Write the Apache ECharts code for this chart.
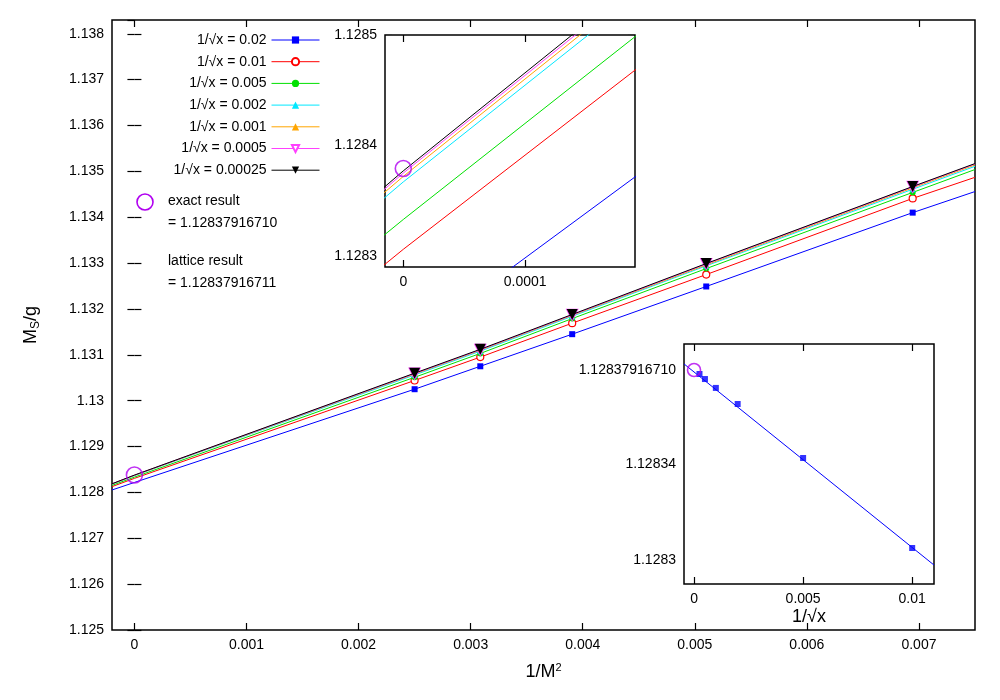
<!DOCTYPE html>
<html><head><meta charset="utf-8">
<script src="https://cdn.jsdelivr.net/npm/echarts@6/dist/echarts.min.js"></script>
<style>html,body{margin:0;padding:0;background:#fff}#c{width:1000px;height:700px}</style>
</head><body><div id="c"></div>
<script>
// ---- data ----
const invM2 = [0.0025, 0.003086, 0.003906, 0.005102, 0.006944];
const seriesNames = ['1/√x = 0.02','1/√x = 0.01','1/√x = 0.005','1/√x = 0.002','1/√x = 0.001','1/√x = 0.0005','1/√x = 0.00025'];
const v002    = [1.13025, 1.13075, 1.13145, 1.13249, 1.13410];
const v001    = [1.13044, 1.13095, 1.13169, 1.13275, 1.13441];
const v0005   = [1.13051, 1.13103, 1.13179, 1.13288, 1.13454];
const v0002   = [1.13056, 1.13108, 1.13184, 1.13294, 1.13461];
const v0001   = [1.13058, 1.13110, 1.13186, 1.13296, 1.13464];
const v00005  = [1.13059, 1.13111, 1.13187, 1.13298, 1.13466];
const v000025 = [1.13060, 1.13112, 1.13188, 1.13299, 1.13467];
// fit curves: value at x = -0.0002, 0, and 0.0075
const fitX = [-0.0002, 0, 0.0075];
const fitStart = [1.128053, 1.128126, 1.128153, 1.128180, 1.128184, 1.128186, 1.128188];
const fitZero  = [1.128217, 1.128306, 1.128333, 1.128367, 1.128372, 1.128375, 1.128377];
const fitEnd   = [1.13456, 1.13487, 1.13504, 1.13511, 1.13514, 1.13516, 1.13517];
const exactX = 0;
const exactValue = 1.12837916710;
// inset 2: extrapolated values vs 1/sqrt(x)
const invSqrtX = [0.00025, 0.0005, 0.001, 0.002, 0.005, 0.01];
const extrap   = [1.1283775, 1.1283754, 1.1283717, 1.128365, 1.1283425, 1.128305];
const fit2X = [-0.00046, 0.011];
const fit2V = [1.1283817, 1.1282979];
const mainXTicks = [0,0.001,0.002,0.003,0.004,0.005,0.006,0.007];
const in1XTicks = [0, 0.0001];
const in1YTicks = [1.1283, 1.1284, 1.1285];
const in2XTicks = [0, 0.005, 0.01];
const in2YTicks = [1.1283, 1.12834, 1.12837916710];
// ---- styles ----
const values = [v002, v001, v0005, v0002, v0001, v00005, v000025];
const colors = ['#0000ff','#ff0000','#00e000','#00e8ff','#ffa500','#ff40ff','#000000'];
const symbols = ['rect','circle','circle','triangle','triangle','path://M0,0L10,0L5,9Z','path://M0,0L10,0L5,9Z'];
const symSizes = [6,7,6,6,5,11,11];
const hollow = [false,true,false,false,false,true,false];
const FONT = 'Liberation Sans';
const txt = {fontFamily: FONT, fontSize: 14, color: '#000'};
const tickStyle = {color: '#000', width: 1.2};

function xPair(gridIndex, min, max, ticks, fmt, z, extra) {
  const base = {type:'value', gridIndex, min, max, z, axisLine:{show:false}, splitLine:{show:false},
    axisTick:{show:true, inside:true, length:7, customValues:ticks, lineStyle:tickStyle}};
  return [
    Object.assign({}, base, {position:'bottom', axisLabel:Object.assign({show:true, customValues:ticks, formatter:fmt, margin:8}, txt)}, extra || {}),
    Object.assign({}, base, {position:'top', axisLabel:{show:false}}),
  ];
}
function yPlain(gridIndex, min, max, fmt, z, labelTicks) {
  // labels only; ticks drawn by markLine
  return [
    {type:'value', gridIndex, min, max, z, position:'left', axisLine:{show:false}, splitLine:{show:false}, axisTick:{show:false},
      axisLabel:Object.assign({show:true, customValues:labelTicks, formatter:fmt, margin:8}, txt)},
    {type:'value', gridIndex, min, max, z, position:'right', axisLine:{show:false}, splitLine:{show:false}, axisTick:{show:false}, axisLabel:{show:false}},
  ];
}
// y tick marks as markLine segments, derived from tick values and axis range
function yTickLines(ticks, xmin, xmax, widthPx) {
  const d = (xmax - xmin) * 7 / widthPx;
  const out = [];
  ticks.forEach(t => {
    out.push([{coord:[xmin, t]}, {coord:[xmin + d, t]}]);
    out.push([{coord:[xmax - d, t]}, {coord:[xmax, t]}]);
  });
  return out;
}

const xAxes = [], yAxes = [];
xAxes.push(...xPair(0,-0.0002,0.0075,mainXTicks,v=>String(+v.toFixed(3)),3,
  {name:'1/M{sup|2}', nameLocation:'middle', nameGap:32, nameTextStyle:{fontFamily:FONT,fontSize:18,color:'#000',rich:{sup:{fontSize:11,verticalAlign:'top',padding:[0,0,10,0],fontFamily:FONT}}}}));
const mainYFmt = v => { const r = Math.round(v * 1000) / 1000; return Math.abs(r - v) < 1e-7 ? String(+r.toFixed(3)) : ''; };
yAxes.push(
  {type:'value', gridIndex:0, min:1.125, max:1.1383, interval:0.001, z:3, position:'left', axisLine:{show:false}, splitLine:{show:false},
   axisTick:{show:true, inside:true, length:7, lineStyle:tickStyle},
   axisLabel:Object.assign({show:true, formatter:mainYFmt, showMaxLabel:false, margin:8}, txt),
   name:'M{sub|S}/g', nameLocation:'middle', nameGap:70,
   nameTextStyle:{fontFamily:FONT,fontSize:18,color:'#000',rich:{sub:{fontSize:12,verticalAlign:'bottom',padding:[10,0,0,0],fontFamily:FONT}}}},
  {type:'value', gridIndex:0, min:1.125, max:1.1383, interval:0.001, z:3, position:'right', axisLine:{show:false}, splitLine:{show:false},
   axisTick:{show:true, inside:true, length:7, lineStyle:tickStyle}, axisLabel:{show:false}}
);
const in1X = [-0.000015, 0.00019], in1Y = [1.12829, 1.1285];
const in2X = [-0.00046, 0.011], in2Y = [1.12829, 1.12839];
xAxes.push(...xPair(1,in1X[0],in1X[1],in1XTicks,v=>String(+v.toFixed(4)),8));
yAxes.push(...yPlain(1,in1Y[0],in1Y[1],v=>String(+v.toFixed(4)),8,in1YTicks));
xAxes.push(...xPair(2,in2X[0],in2X[1],in2XTicks,v=>String(+v.toFixed(3)),8,
  {name:'1/√x', nameLocation:'middle', nameGap:24, nameTextStyle:{fontFamily:FONT,fontSize:18,color:'#000'}}));
yAxes.push(...yPlain(2,in2Y[0],in2Y[1],v=>Math.abs(v-exactValue)<1e-9?'1.12837916710':String(+v.toFixed(5)),8,in2YTicks));

const series = [];
values.forEach((vals, i) => {
  const data = [
    {value: [fitX[0], fitStart[i]], symbol: 'none'},
    {value: [fitX[1], fitZero[i]], symbol: 'none'},
  ];
  invM2.forEach((x, k) => data.push([x, vals[k]]));
  data.push({value: [fitX[2], fitEnd[i]], symbol: 'none'});
  series.push({
    name: seriesNames[i], type: 'line', xAxisIndex: 0, yAxisIndex: 0, z: 2 + i * 0.01,
    data, symbol: symbols[i], symbolSize: symSizes[i], showAllSymbol: true,
    lineStyle: {color: colors[i], width: 1},
    itemStyle: hollow[i] ? {color: '#fff', borderColor: colors[i], borderWidth: 1.2} : {color: colors[i], borderWidth: 0},
    color: colors[i], clip: true, animation: false,
  });
  series.push({
    name: seriesNames[i], type: 'line', xAxisIndex: 2, yAxisIndex: 2, z: 9,
    data: [[fitX[0], fitStart[i]], [fitX[1], fitZero[i]], [invM2[0], vals[0]]],
    showSymbol: false, symbol: 'none', lineStyle: {color: colors[i], width: 1}, clip: true, animation: false,
  });
});
const circleStyle = {color: 'rgba(0,0,0,0)', borderColor: '#b000f0', borderWidth: 1.6};
const dashed = {silent:true, symbol:'none', label:{show:false}, lineStyle:{color:'#000', type:[6,4], width:1}, data:[{xAxis:0}]};
series.push({type:'scatter', xAxisIndex:0, yAxisIndex:0, z:4, data:[[exactX, exactValue]], symbol:'circle', symbolSize:16, itemStyle:circleStyle, animation:false});
series.push({type:'scatter', xAxisIndex:2, yAxisIndex:2, z:10, data:[[exactX, exactValue]], symbol:'circle', symbolSize:16, itemStyle:circleStyle, animation:false, markLine:dashed});
series.push({type:'line', xAxisIndex:2, yAxisIndex:2, z:10, data:[], animation:false,
  markLine:{silent:true, symbol:'none', label:{show:false}, lineStyle:{color:'#000', type:'solid', width:1.2}, data:yTickLines(in1YTicks, in1X[0], in1X[1], 250)}});
series.push({type:'line', xAxisIndex:4, yAxisIndex:4, z:9, data:[[fit2X[0],fit2V[0]],[fit2X[1],fit2V[1]]], symbol:'none', lineStyle:{color:'#0000ff',width:1}, clip:true, animation:false});
series.push({type:'scatter', xAxisIndex:4, yAxisIndex:4, z:10, data: invSqrtX.map((x,k)=>[x, extrap[k]]), symbol:'rect', symbolSize:6, itemStyle:{color:'#0000ff'}, animation:false});
series.push({type:'scatter', xAxisIndex:4, yAxisIndex:4, z:10, data:[[exactX, exactValue]], symbol:'circle', symbolSize:13, itemStyle:circleStyle, animation:false, markLine:dashed});
series.push({type:'line', xAxisIndex:4, yAxisIndex:4, z:10, data:[], animation:false,
  markLine:{silent:true, symbol:'none', label:{show:false}, lineStyle:{color:'#000', type:'solid', width:1.2}, data:yTickLines(in2YTicks, in2X[0], in2X[1], 250)}});

const legends = seriesNames.map((n, i) => ({
  data: [n], orient: 'vertical', right: 680, top: 33 + i * 21.7, align: 'right',
  itemWidth: 48, itemHeight: 9, itemGap: 0, padding: 0, selectedMode: false,
  lineStyle: {width: 1},
  textStyle: {fontFamily: FONT, fontSize: 14, color: '#000'},
}));

const chart = echarts.init(document.getElementById('c'), null, {renderer: 'canvas'});
chart.setOption({
  backgroundColor: '#fff', animation: false,
  grid: [
    {left:112, top:20, width:863, height:610, show:true, borderColor:'#000', borderWidth:1.5, backgroundColor:'transparent', z:1},
    {left:385, top:35, width:250, height:232, show:true, borderColor:'#000', borderWidth:1.5, backgroundColor:'#fff', z:6},
    {left:684, top:344, width:250, height:240, show:true, borderColor:'#000', borderWidth:1.5, backgroundColor:'#fff', z:6},
  ],
  xAxis: xAxes, yAxis: yAxes, legend: legends, series,
  graphic: [
    {type:'circle', shape:{cx:145, cy:202, r:8}, style:{fill:'none', stroke:'#b000f0', lineWidth:1.6}},
    {type:'text', left:168, top:194, style:{text:'exact result', font:'14px "Liberation Sans"', fill:'#000'}},
    {type:'text', left:168, top:216, style:{text:'= 1.12837916710', font:'14px "Liberation Sans"', fill:'#000'}},
    {type:'text', left:168, top:254, style:{text:'lattice result', font:'14px "Liberation Sans"', fill:'#000'}},
    {type:'text', left:168, top:276, style:{text:'= 1.12837916711', font:'14px "Liberation Sans"', fill:'#000'}},
  ],
});
</script></body></html>
